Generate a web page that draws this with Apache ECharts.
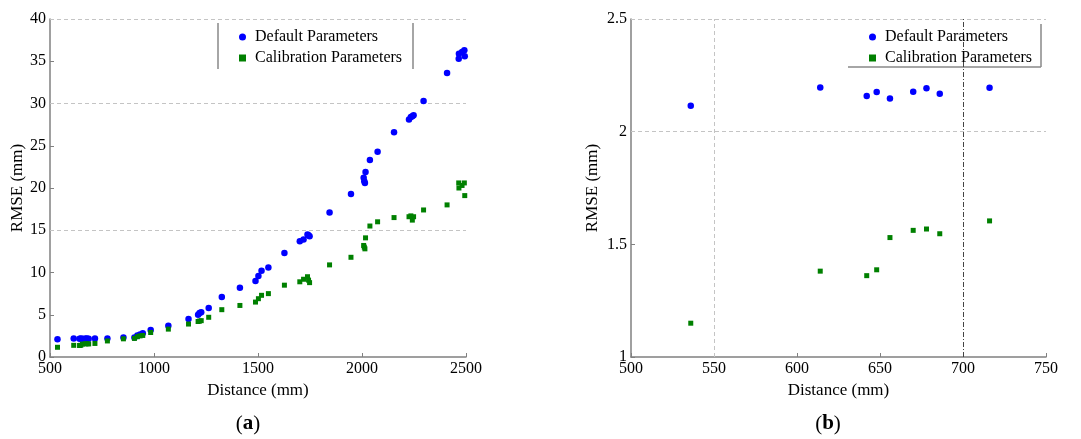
<!DOCTYPE html>
<html>
<head>
<meta charset="utf-8">
<script src="https://cdn.jsdelivr.net/npm/echarts@6/dist/echarts.min.js"></script>
<style>
html,body{margin:0;padding:0;background:#fff;}
#chart{width:1081px;height:439px;}
</style>
</head>
<body>
<div id="chart"></div>
<script>
// ---- Panel (a) data ----
const distA = [536,614,642,648,656,670,678,686,716,776,853,906,920,933,946,984,1069,1166,1212,1219,1227,1263,1326,1413,1488,1502,1517,1550,1627,1701,1719,1738,1743,1748,1844,1947,2008,2011,2014,2017,2038,2075,2154,2226,2235,2242,2248,2296,2409,2465,2466,2481,2492,2494];
const defaultA = [2.115,2.196,2.158,2.176,2.147,2.177,2.193,2.168,2.195,2.2,2.3,2.3,2.55,2.65,2.8,3.2,3.7,4.5,5.0,5.2,5.3,5.8,7.1,8.2,9.0,9.6,10.2,10.6,12.3,13.7,13.9,14.5,14.4,14.3,17.1,19.3,21.2,20.8,20.6,21.9,23.3,24.3,26.6,28.1,28.4,28.5,28.6,30.3,33.6,35.3,35.9,36.1,36.3,35.6];
const calibA = [1.150,1.381,1.361,1.387,1.530,1.562,1.568,1.547,1.604,1.9,2.15,2.2,2.4,2.5,2.55,2.9,3.3,3.9,4.2,4.25,4.3,4.7,5.6,6.1,6.5,6.9,7.3,7.5,8.5,8.9,9.2,9.5,9.1,8.8,10.9,11.8,13.2,13.0,12.8,14.1,15.5,16.0,16.5,16.6,16.7,16.2,16.6,17.4,18.0,20.6,20.0,20.3,20.6,19.1];
const gridLinesA = [15, 30, 40];

// ---- Panel (b) data ----
const distB = [536,614,642,648,656,670,678,686,716];
const defaultB = [2.115,2.196,2.158,2.176,2.147,2.177,2.193,2.168,2.195];
const calibB = [1.150,1.381,1.361,1.387,1.530,1.562,1.568,1.547,1.604];
const gridLinesBy = [2, 2.5];

const seriesNames = ['Default Parameters', 'Calibration Parameters'];

const FONT = 'Liberation Serif';
const AXIS_C = '#808080';
const zip = (xs, ys) => xs.map((x, i) => [x, ys[i]]);
const plain = v => String(v);

const lightGrid = { color: '#c4c4c4', type: [4, 3], width: 1 };
const darkGrid = { color: '#444', type: [5, 2, 1, 2], width: 1 };

function xAxisCfg(idx, min, max, interval) {
  return {
    type: 'value', gridIndex: idx, min: min, max: max, interval: interval,
    name: 'Distance (mm)', nameLocation: 'middle', nameGap: 21,
    nameTextStyle: { fontFamily: FONT, fontSize: 17, color: '#000' },
    axisLine: { lineStyle: { color: AXIS_C, width: 1.5 } },
    axisTick: { inside: true, length: 4, lineStyle: { color: AXIS_C } },
    axisLabel: { fontFamily: FONT, fontSize: 16, color: '#000', margin: 4, formatter: plain },
    splitLine: { show: false }
  };
}
function yAxisCfg(idx, min, max, interval, gap) {
  return {
    type: 'value', gridIndex: idx, min: min, max: max, interval: interval,
    name: 'RMSE (mm)', nameLocation: 'middle', nameGap: gap,
    nameTextStyle: { fontFamily: FONT, fontSize: 17, color: '#000' },
    axisLine: { show: true, lineStyle: { color: AXIS_C, width: 1.5 } },
    axisTick: { show: true, inside: true, length: 4, lineStyle: { color: AXIS_C } },
    axisLabel: { fontFamily: FONT, fontSize: 16, color: '#000', margin: 4, formatter: plain },
    splitLine: { show: false }
  };
}
function legendCfg(left, top) {
  return {
    left: left, top: top, orient: 'vertical', itemWidth: 7, itemHeight: 7, itemGap: 5,
    textStyle: { fontFamily: FONT, fontSize: 16, color: '#000', padding: [0, 0, 0, 4] },
    data: [{ name: seriesNames[0], icon: 'circle' }, { name: seriesNames[1], icon: 'rect' }],
    selectedMode: false
  };
}

const option = {
  backgroundColor: '#fff',
  animation: false,
  grid: [
    { left: 50, top: 19, width: 416, height: 338 },
    { left: 631, top: 19, width: 415, height: 338 }
  ],
  xAxis: [xAxisCfg(0, 500, 2500, 500), xAxisCfg(1, 500, 750, 50)],
  yAxis: [yAxisCfg(0, 0, 40, 5, 24), yAxisCfg(1, 1, 2.5, 0.5, 30)],
  legend: [legendCfg(234, 24), legendCfg(864, 24)],
  series: [
    {
      name: seriesNames[0], type: 'scatter', xAxisIndex: 0, yAxisIndex: 0,
      symbol: 'circle', symbolSize: 6.5, itemStyle: { color: '#0000ff', opacity: 1 }, z: 3,
      data: zip(distA, defaultA),
      markLine: { silent: true, symbol: 'none', label: { show: false }, lineStyle: lightGrid,
        data: gridLinesA.map(v => ({ yAxis: v })) , z: 1}
    },
    {
      name: seriesNames[1], type: 'scatter', xAxisIndex: 0, yAxisIndex: 0,
      symbol: 'rect', symbolSize: 5, itemStyle: { color: '#008000', opacity: 1 }, z: 3,
      data: zip(distA, calibA)
    },
    {
      name: seriesNames[0], type: 'scatter', xAxisIndex: 1, yAxisIndex: 1,
      symbol: 'circle', symbolSize: 6.5, itemStyle: { color: '#0000ff', opacity: 1 }, z: 3,
      data: zip(distB, defaultB),
      markLine: { silent: true, symbol: 'none', label: { show: false }, lineStyle: lightGrid,
        data: gridLinesBy.map(v => ({ yAxis: v })).concat([
          { xAxis: 550 },
          { xAxis: 700, lineStyle: darkGrid }
        ]), z: 1 }
    },
    {
      name: seriesNames[1], type: 'scatter', xAxisIndex: 1, yAxisIndex: 1,
      symbol: 'rect', symbolSize: 5, itemStyle: { color: '#008000', opacity: 1 }, z: 3,
      data: zip(distB, calibB)
    }
  ],
  graphic: [
    { type: 'line', shape: { x1: 218, y1: 23, x2: 218, y2: 69 }, style: { stroke: '#888', lineWidth: 1.5 } },
    { type: 'line', shape: { x1: 413, y1: 23, x2: 413, y2: 69 }, style: { stroke: '#888', lineWidth: 1.5 } },
    { type: 'line', shape: { x1: 1041, y1: 24, x2: 1041, y2: 67 }, style: { stroke: '#888', lineWidth: 1.5 } },
    { type: 'line', shape: { x1: 848, y1: 67, x2: 1041, y2: 67 }, style: { stroke: '#888', lineWidth: 1.5 } },
    { type: 'text', x: 248, y: 424, style: { text: '{n|(}{b|a}{n|)}', align: 'center', verticalAlign: 'middle',
      rich: { n: { fontFamily: FONT, fontSize: 21, fill: '#000' }, b: { fontFamily: FONT, fontSize: 21, fontWeight: 'bold', fill: '#000' } } } },
    { type: 'text', x: 828, y: 424, style: { text: '{n|(}{b|b}{n|)}', align: 'center', verticalAlign: 'middle',
      rich: { n: { fontFamily: FONT, fontSize: 21, fill: '#000' }, b: { fontFamily: FONT, fontSize: 21, fontWeight: 'bold', fill: '#000' } } } }
  ]
};

const chart = echarts.init(document.getElementById('chart'), null, { renderer: 'canvas' });
chart.setOption(option);
</script>
</body>
</html>
